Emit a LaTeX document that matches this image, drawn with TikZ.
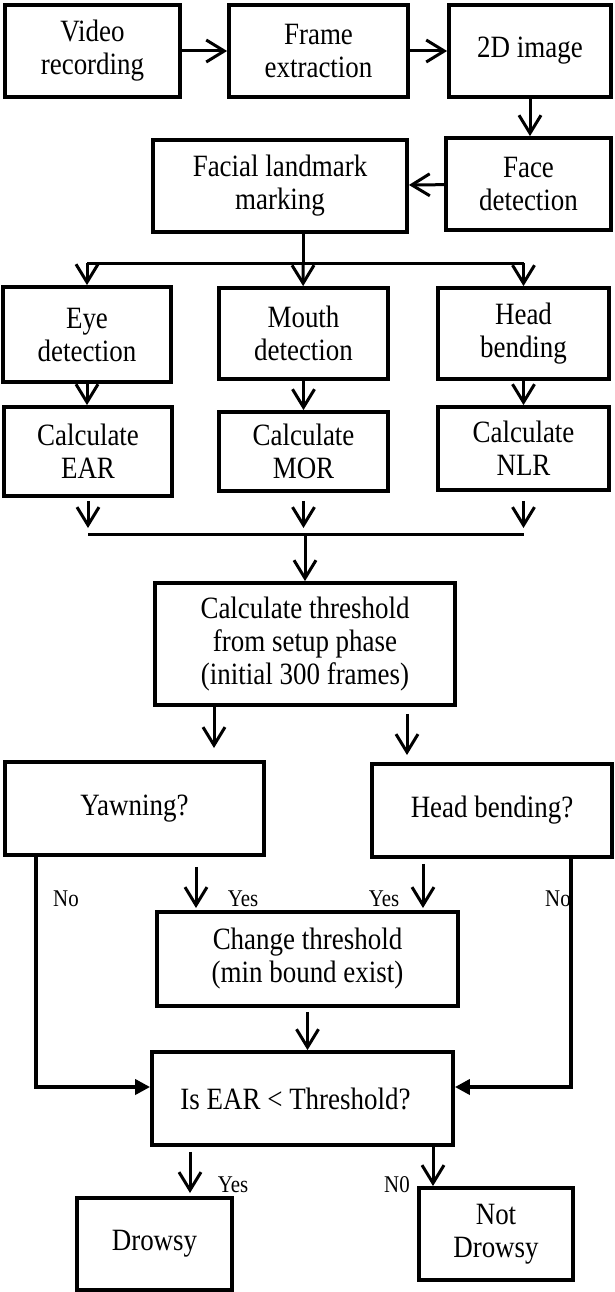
\documentclass[tikz,border=0pt]{standalone}
\usepackage{fontspec}
\setmainfont[FakeStretch=0.87]{Liberation Serif}
\usetikzlibrary{arrows.meta,positioning}

\begin{document}
\begin{tikzpicture}[x=1pt,y=-1pt,font=\fontsize{31}{33}\selectfont,inner sep=0pt,
  box/.style={draw,line width=3.8pt,align=center},
  conn/.style={line width=3pt},
  arr/.style={conn,-{Straight Barb[length=18pt,width=22pt]}},
  sidearr/.style={line width=4.2pt,-{Triangle[length=15pt,width=15pt]}},
  lbl/.style={font=\fontsize{24}{26}\selectfont}]
\useasboundingbox (0,0) rectangle (614,1292);
% top row
\node[box,minimum width=175,minimum height=92] (video) at (92.5,51) {Video\\recording};
\node[box,minimum width=179,minimum height=92] (frame) at (318.5,51) {Frame\\extraction};
\node[box,minimum width=162,minimum height=92] (img2d) at (530,51) {2D image};
\node[box,minimum width=165,minimum height=92] (facedet) at (528.5,184) {Face\\detection};
\node[box,minimum width=254,minimum height=92] (landmark) at (280,186) {Facial landmark\\marking};
\draw[arr] (video) -- (frame);
\draw[arr] (frame) -- (img2d);
\draw[arr] (img2d.south) -- (img2d.south |- facedet.north);
\draw[arr] (facedet) -- (landmark);
% three features
\node[box,minimum width=168,minimum height=95] (eye) at (87,334.5) {Eye\\detection};
\node[box,minimum width=169,minimum height=91] (mouth) at (303.5,333.5) {Mouth\\detection};
\node[box,minimum width=171,minimum height=91] (head) at (523.5,333.5) {Head\\bending};
\node[box,minimum width=168,minimum height=89] (ear) at (88,451.5) {Calculate\\EAR};
\node[box,minimum width=169,minimum height=79] (mor) at (303.5,451.5) {Calculate\\MOR};
\node[box,minimum width=171,minimum height=83] (nlr) at (523.5,448.5) {Calculate\\NLR};
\coordinate (split) at (303,263);
\draw[conn] (landmark.south -| split) -- (split);
\draw[conn] (split -| eye) -- (split -| head);
\draw[arr] (split -| eye) -- (eye);
\draw[arr] (split) -- (mouth);
\draw[arr] (split -| head) -- (head);
\draw[arr] (eye.south) -- (eye.south |- ear.north);
\draw[arr] (mouth) -- (mor);
\draw[arr] (head) -- (nlr);
\coordinate (merge) at (305,534);
\coordinate (mergetop) at (305,528);
\draw[arr] (ear.south) ++(0,3) -- (ear.south |- mergetop);
\draw[arr] (mor.south) ++(0,8) -- (mor.south |- mergetop);
\draw[arr] (nlr.south) ++(0,9) -- (nlr.south |- mergetop);
\draw[conn] (merge -| ear) -- (merge -| nlr);
% threshold
\node[box,minimum width=300,minimum height=122] (thresh) at (305,644) {Calculate threshold\\from setup phase\\(initial 300 frames)};
\draw[arr] (merge) -- (merge |- thresh.north);
\node[box,minimum width=259,minimum height=93] (yawn) at (134.5,808.5) {Yawning?};
\node[box,minimum width=240,minimum height=93] (headq) at (492,810.5) {Head bending?};
\coordinate (yawnin) at (214,748);
\coordinate (headin) at (407,755);
\draw[arr] (thresh.south -| yawnin) -- (yawnin);
\draw[arr] (thresh.south -| headin) ++(0,7) -- (headin);
\node[box,minimum width=301,minimum height=94] (change) at (307.5,959) {Change threshold\\(min bound exist)};
\node[box,minimum width=301,minimum height=93] (isear) at (302.5,1098.5) {\hspace*{-14pt}Is EAR < Threshold?};
\node[lbl] (nolt) at (66,899) {No};
\node[lbl] (yeslt) at (243,899) {Yes};
\node[lbl] (yesrt) at (384,899) {Yes};
\node[lbl] (nort) at (558,899) {No};
\coordinate (yesl) at (196,908);
\coordinate (yesr) at (423,908);
\draw[arr] (yawn.south -| yesl) ++(0,10) -- (yesl);
\draw[arr] (headq.south -| yesr) ++(0,5) -- (yesr);
\coordinate (nol) at (36,1087);
\coordinate (nor) at (571,1087);
\draw[sidearr] (yawn.south -| nol) -- (nol) -- (nol -| isear.west);
\draw[sidearr] (headq.south -| nor) -- (nor) -- (nor -| isear.east);
\draw[arr] (change.south) ++(0,4) -- (change.south |- isear.north);
% outcome
\node[box,minimum width=155,minimum height=92] (drowsy) at (154.5,1244) {Drowsy};
\node[box,minimum width=154,minimum height=92] (notdrowsy) at (496,1234) {Not\\Drowsy};
\coordinate (yesd) at (190,1193);
\coordinate (nod) at (433,1186);
\draw[arr] (isear.south -| yesd) ++(0,5) -- (yesd);
\draw[arr] (isear.south -| nod) -- (nod);
\node[lbl] (yesdl) at (233,1185) {Yes};
\node[lbl] (nodl) at (397,1185) {N0};
\end{tikzpicture}
\end{document}
